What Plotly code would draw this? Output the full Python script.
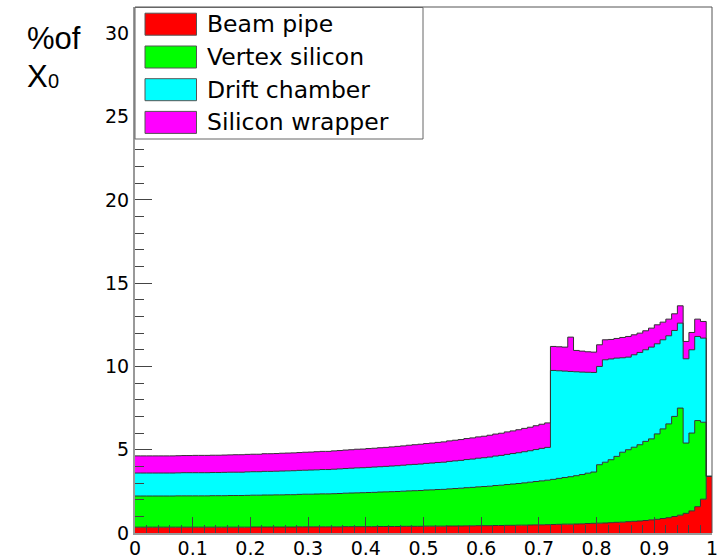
import numpy as np
import plotly.graph_objects as go

# Material budget (% of X0) versus cos(theta), 100 bins of width 0.01
bin_width = 0.01
n_bins = 100
bin_left = [round(i * bin_width, 2) for i in range(n_bins)]

beam_pipe = [
    0.35, 0.35, 0.35, 0.35, 0.35, 0.35, 0.35, 0.35, 0.35, 0.35,
    0.35, 0.35, 0.35, 0.35, 0.35, 0.35, 0.35, 0.35, 0.35, 0.35,
    0.36, 0.36, 0.36, 0.36, 0.36, 0.36, 0.36, 0.36, 0.37, 0.37,
    0.37, 0.37, 0.37, 0.37, 0.37, 0.37, 0.38, 0.38, 0.38, 0.38,
    0.38, 0.38, 0.39, 0.39, 0.39, 0.39, 0.40, 0.40, 0.40, 0.40,
    0.41, 0.41, 0.41, 0.41, 0.42, 0.42, 0.42, 0.43, 0.43, 0.44,
    0.44, 0.44, 0.45, 0.45, 0.46, 0.46, 0.47, 0.47, 0.48, 0.49,
    0.49, 0.50, 0.51, 0.52, 0.53, 0.53, 0.54, 0.55, 0.57, 0.58,
    0.59, 0.60, 0.62, 0.64, 0.65, 0.68, 0.70, 0.72, 0.75, 0.79,
    0.82, 0.87, 0.92, 0.99, 1.07, 1.18, 1.33, 1.58, 2.03, 3.40,
]

vertex_silicon = [
    1.87, 1.87, 1.87, 1.87, 1.87, 1.87, 1.87, 1.88, 1.88, 1.88,
    1.88, 1.88, 1.88, 1.89, 1.89, 1.89, 1.90, 1.90, 1.90, 1.91,
    1.91, 1.91, 1.92, 1.92, 1.93, 1.93, 1.94, 1.94, 1.95, 1.96,
    1.96, 1.97, 1.98, 1.98, 1.99, 2.00, 2.01, 2.02, 2.03, 2.04,
    2.05, 2.06, 2.07, 2.08, 2.09, 2.10, 2.11, 2.13, 2.14, 2.15,
    2.17, 2.18, 2.20, 2.21, 2.23, 2.25, 2.27, 2.29, 2.31, 2.33,
    2.35, 2.37, 2.40, 2.42, 2.45, 2.48, 2.50, 2.54, 2.57, 2.60,
    2.64, 2.67, 2.71, 2.76, 2.80, 2.85, 2.90, 2.96, 3.02, 3.08,
    3.51, 3.65, 3.78, 3.96, 4.20, 4.32, 4.45, 4.58, 4.75, 4.86,
    5.13, 5.38, 5.63, 6.01, 6.43, 4.22, 4.67, 5.17, 4.62, 0.00,
]

drift_chamber = [
    1.38, 1.38, 1.38, 1.38, 1.38, 1.38, 1.38, 1.38, 1.39, 1.39,
    1.39, 1.39, 1.39, 1.39, 1.39, 1.40, 1.40, 1.40, 1.40, 1.41,
    1.41, 1.41, 1.42, 1.42, 1.42, 1.43, 1.43, 1.44, 1.44, 1.44,
    1.45, 1.45, 1.46, 1.46, 1.47, 1.48, 1.48, 1.49, 1.50, 1.50,
    1.51, 1.52, 1.52, 1.53, 1.54, 1.55, 1.56, 1.57, 1.58, 1.59,
    1.60, 1.61, 1.62, 1.63, 1.65, 1.66, 1.67, 1.69, 1.70, 1.72,
    1.73, 1.75, 1.77, 1.79, 1.81, 1.83, 1.85, 1.87, 1.89, 1.92,
    1.95, 1.97, 6.54, 6.46, 6.39, 6.32, 6.24, 6.15, 6.06, 5.98,
    5.90, 6.15, 6.05, 5.90, 5.67, 5.56, 5.55, 5.54, 5.50, 5.51,
    5.41, 5.35, 5.29, 5.16, 5.10, 5.06, 5.00, 5.05, 5.05, 0.00,
]

silicon_wrapper = [
    1.03, 1.03, 1.03, 1.03, 1.03, 1.03, 1.03, 1.03, 1.03, 1.03,
    1.04, 1.04, 1.04, 1.04, 1.04, 1.04, 1.04, 1.05, 1.05, 1.05,
    1.05, 1.05, 1.06, 1.06, 1.06, 1.07, 1.07, 1.07, 1.07, 1.08,
    1.08, 1.09, 1.09, 1.09, 1.10, 1.10, 1.11, 1.11, 1.12, 1.12,
    1.13, 1.13, 1.14, 1.14, 1.15, 1.16, 1.16, 1.17, 1.18, 1.19,
    1.19, 1.20, 1.21, 1.22, 1.23, 1.24, 1.25, 1.26, 1.27, 1.28,
    1.29, 1.31, 1.32, 1.33, 1.35, 1.36, 1.38, 1.40, 1.41, 1.43,
    1.45, 1.47, 1.44, 1.44, 1.44, 2.06, 1.28, 1.26, 1.23, 1.22,
    1.30, 1.20, 1.17, 1.18, 1.22, 1.24, 1.20, 1.16, 1.14, 1.14,
    1.14, 1.06, 1.00, 1.00, 1.04, 1.04, 1.04, 1.04, 1.00, 0.00,
]

layer_names = ["Beam pipe", "Vertex silicon", "Drift chamber", "Silicon wrapper"]
layer_values = [beam_pipe, vertex_silicon, drift_chamber, silicon_wrapper]
layer_colors = ["#ff0000", "#00ff00", "#00ffff", "#ff00ff"]

y_max = 31.58
x_ticks = [round(0.1 * i, 1) for i in range(11)]
y_ticks = [0, 5, 10, 15, 20, 25, 30]

W, H = 722, 558
M_L, M_R, M_T, M_B = 135, 10, 7, 25
PW, PH = W - M_L - M_R, H - M_T - M_B


def fx(px):
    return (px - M_L) / PW


def fy(py):
    return (H - M_B - py) / PH


FONT = "Liberation Sans, Arial, Helvetica, sans-serif"
WIDE_FONT = "DejaVu Sans, Verdana, sans-serif"
OUTLINE = "#333333"

fig = go.Figure()

# stacked step histograms: each layer filled between its cumulative top and the one below
edges = bin_left + [1.0]
running = np.zeros(n_bins)
for i, (name, vals, col) in enumerate(zip(layer_names, layer_values, layer_colors)):
    running = running + np.array(vals)
    tops = list(running) + [running[-1]]
    fig.add_trace(go.Scatter(
        x=edges, y=tops, mode="lines", name=name,
        line=dict(shape="hv", color=OUTLINE, width=1),
        fill="tozeroy" if i == 0 else "tonexty",
        fillcolor=col, showlegend=False, hoverinfo="skip",
    ))

axis_font = dict(family=WIDE_FONT, size=19, color="#000000")

fig.update_xaxes(
    range=[0, 1], tickvals=x_ticks, ticktext=[f"{v:g}" for v in x_ticks],
    ticks="inside", ticklen=16, tickwidth=1, tickcolor="#444444",
    minor=dict(dtick=0.02, tick0=0, ticks="inside", ticklen=8, tickwidth=1, tickcolor="#444444"),
    showline=True, linecolor="#999999", linewidth=2,
    showgrid=False, zeroline=False, tickfont=axis_font,
    automargin=False, ticklabelstandoff=-3,
)
fig.update_yaxes(
    range=[0, y_max], tickvals=y_ticks, ticktext=[str(v) for v in y_ticks],
    ticks="inside", ticklen=17, tickwidth=1, tickcolor="#444444",
    minor=dict(dtick=1, tick0=0, ticks="inside", ticklen=9, tickwidth=1, tickcolor="#444444"),
    showline=True, linecolor="#999999", linewidth=2,
    showgrid=False, zeroline=False, tickfont=axis_font,
    automargin=False,
)

shapes = [
    # frame: top and right edges
    dict(type="line", xref="paper", yref="paper", x0=0, x1=1, y0=1, y1=1,
         line=dict(color="#555555", width=1), layer="above"),
    dict(type="line", xref="paper", yref="paper", x0=1, x1=1, y0=0, y1=1,
         line=dict(color="#555555", width=1), layer="above"),
    # legend box
    dict(type="rect", xref="paper", yref="paper",
         x0=fx(135), x1=fx(423), y0=fy(139), y1=fy(7.5),
         fillcolor="white", line=dict(color="#666666", width=1), layer="above"),
]

annotations = []
row_centers = [24.2, 57.0, 89.7, 122.4]
for name, col, cy in zip(layer_names, layer_colors, row_centers):
    shapes.append(dict(
        type="rect", xref="paper", yref="paper",
        x0=fx(145), x1=fx(196.5), y0=fy(cy + 11), y1=fy(cy - 11),
        fillcolor=col, line=dict(color="#555555", width=1), layer="above",
    ))
    annotations.append(dict(
        text=name, xref="paper", yref="paper", x=fx(205), y=fy(cy),
        xanchor="left", yanchor="middle", showarrow=False,
        font=dict(family=WIDE_FONT, size=23.5, color="#000000"),
    ))

# y-axis title: "%of X0"
annotations += [
    dict(text="%of", xref="paper", yref="paper", x=fx(25), y=fy(38.5),
         xanchor="left", yanchor="middle", showarrow=False,
         font=dict(family=FONT, size=31, color="#000000")),
    dict(text="X", xref="paper", yref="paper", x=fx(25), y=fy(76.5),
         xanchor="left", yanchor="middle", showarrow=False,
         font=dict(family=FONT, size=31, color="#000000")),
    dict(text="0", xref="paper", yref="paper", x=fx(45.5), y=fy(81),
         xanchor="left", yanchor="middle", showarrow=False,
         font=dict(family=FONT, size=20, color="#000000")),
]

fig.update_layout(
    width=W, height=H,
    margin=dict(l=M_L, r=M_R, t=M_T, b=M_B, pad=0),
    paper_bgcolor="white", plot_bgcolor="white",
    showlegend=False, shapes=shapes, annotations=annotations,
)

fig.write_html("out.html")
